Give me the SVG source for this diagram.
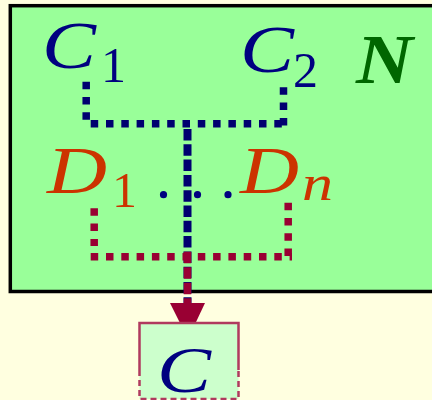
<svg xmlns="http://www.w3.org/2000/svg" width="432" height="400" viewBox="0 0 432 400">
<style>
.mi{font-family:"Liberation Serif",serif;font-style:italic}
.rm{font-family:"Liberation Serif",serif}
.nv{fill:#000080}
.dr{fill:#cc3300}
.cdot{fill:none;stroke:#000070;stroke-width:7.5;stroke-dasharray:7.5 7.8}
.ddot{fill:none;stroke:#990033;stroke-width:7.5;stroke-dasharray:7.5 7.8}
</style>
<rect width="432" height="400" fill="#ffffe0"/>
<g id="N">
<rect x="10.3" y="5.7" width="440" height="285.8" fill="#99ff99" stroke="#000" stroke-width="3.5"/>
<text x="356" y="83" font-family="Liberation Serif,serif" font-style="italic" font-weight="bold" font-size="70" fill="#006600" textLength="57" lengthAdjust="spacingAndGlyphs">N</text>
</g>
<g id="C1">
<text class="mi nv" x="42" y="68" font-size="68" textLength="54" lengthAdjust="spacingAndGlyphs">C</text>
<text class="rm nv" x="101" y="82" font-size="50">1</text>
</g>
<g id="C2">
<text class="mi nv" x="240" y="72" font-size="68" textLength="54" lengthAdjust="spacingAndGlyphs">C</text>
<text class="rm nv" x="293" y="87" font-size="50">2</text>
</g>
<g id="D1">
<text class="mi dr" x="47" y="193" font-size="68" textLength="60" lengthAdjust="spacingAndGlyphs">D</text>
<text class="rm dr" x="112" y="207" font-size="50">1</text>
</g>
<g id="dots" class="nv">
<circle cx="163.5" cy="194.7" r="3.6"/>
<circle cx="197.5" cy="194.7" r="3.6"/>
<circle cx="228" cy="194.7" r="3.6"/>
</g>
<g id="Dn">
<text class="mi dr" x="240" y="193" font-size="68" textLength="59" lengthAdjust="spacingAndGlyphs">D</text>
<text class="mi dr" x="302" y="200" font-size="50" textLength="31" lengthAdjust="spacingAndGlyphs">n</text>
</g>
<g id="connectors">
<path class="cdot" d="M86.2,81.7V127"/>
<path class="cdot" d="M90.7,123.7H287"/>
<path class="cdot" d="M283.5,87.3V125.5"/>
<path d="M187.5,129V303" fill="none" stroke="#000070" stroke-width="8" stroke-dasharray="11.5 3.8"/>
<path class="ddot" d="M94.2,208.3V246"/>
<path class="ddot" d="M90.7,256.7H292"/>
<path class="ddot" d="M288.2,202.7V256"/>
<path d="M187.5,251.7V305" fill="none" stroke="#990033" stroke-width="7.5" stroke-dasharray="11.5 4"/>
<polygon points="170,303 205,303 188,339" fill="#990033"/>
</g>
<g id="C">
<rect x="139.5" y="323" width="99" height="76" fill="#ccffcc"/>
<path d="M139.5,370V323H238.5V370" fill="none" stroke="#b03a5e" stroke-width="2.5"/>
<path d="M139.5,370V399H238.5V370" fill="none" stroke="#b03a5e" stroke-width="2.5" stroke-dasharray="6 4"/>
<text class="mi nv" x="157" y="392" font-size="66" textLength="54" lengthAdjust="spacingAndGlyphs">C</text>
</g>
</svg>
